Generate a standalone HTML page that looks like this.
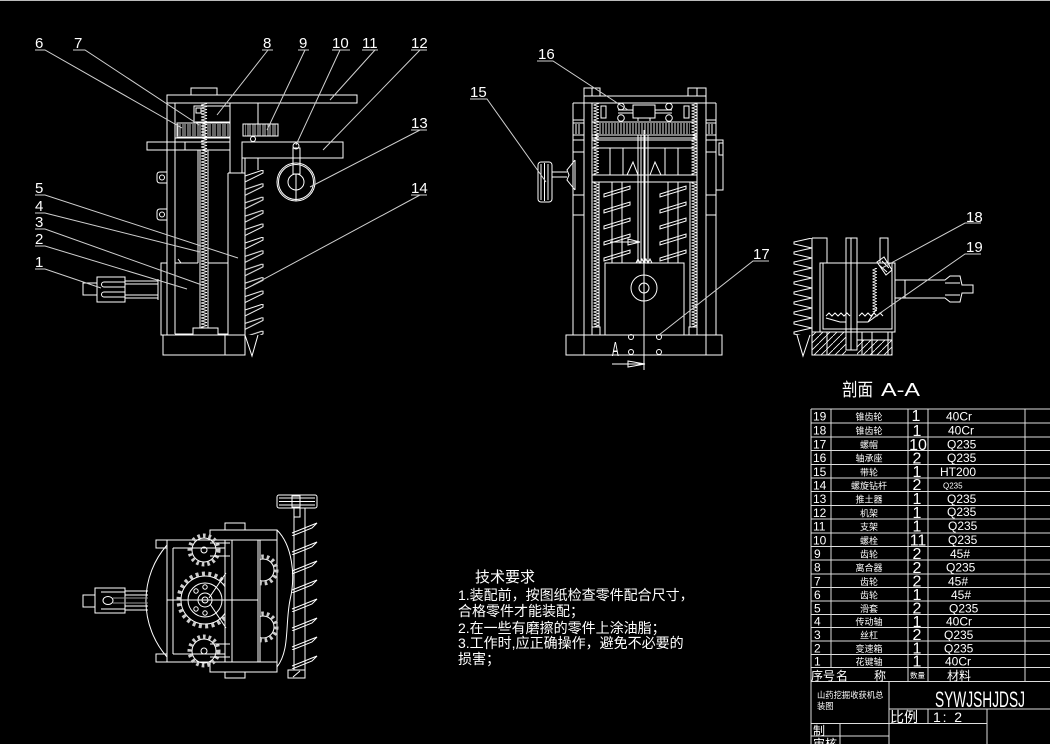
<!DOCTYPE html>
<html><head><meta charset="utf-8">
<style>
html,body{margin:0;padding:0;background:#000;}
body{width:1050px;height:744px;overflow:hidden;}
svg{display:block;}
text{font-family:"Liberation Sans","Noto Sans CJK SC",sans-serif;fill:#fff;}
.cj{font-family:"Liberation Sans","Noto Sans CJK SC",sans-serif;}
</style></head><body>
<svg width="1050" height="744" viewBox="0 0 1050 744" xmlns="http://www.w3.org/2000/svg">
<defs>
<pattern id="zz1" x="200" y="0" width="8" height="3" patternUnits="userSpaceOnUse"><path d="M1,0 L7,1.5 L1,3" fill="none" stroke="#fff" stroke-width="0.8"/></pattern>
<pattern id="zz2" x="593" y="0" width="6" height="3" patternUnits="userSpaceOnUse"><path d="M0.5,0 L5.5,1.5 L0.5,3" fill="none" stroke="#fff" stroke-width="0.8"/></pattern>
<pattern id="zz3" x="691" y="0" width="6" height="3" patternUnits="userSpaceOnUse"><path d="M0.5,0 L5.5,1.5 L0.5,3" fill="none" stroke="#fff" stroke-width="0.8"/></pattern>
<pattern id="zz4" x="872" y="0" width="5" height="3" patternUnits="userSpaceOnUse"><path d="M0.5,0 L4.5,1.5 L0.5,3" fill="none" stroke="#fff" stroke-width="0.8"/></pattern>
<pattern id="gr" x="177" y="124" width="5" height="12" patternUnits="userSpaceOnUse"><path d="M1,0V12M3,0V12" stroke="#fff" stroke-width="0.8"/></pattern>
<pattern id="gm" x="599" y="123" width="3" height="11" patternUnits="userSpaceOnUse"><path d="M1,0V11" stroke="#fff" stroke-width="0.9"/></pattern>
<pattern id="h14" x="245" y="170" width="20" height="13.4" patternUnits="userSpaceOnUse"><path d="M0,6 L18,0 L18,3 L0,12" fill="none" stroke="#fff" stroke-width="1"/></pattern>
<pattern id="hr" x="793" y="238" width="19" height="10" patternUnits="userSpaceOnUse"><path d="M19,0 L1,4 L1,6 L19,10" fill="none" stroke="#fff" stroke-width="1"/></pattern>
<pattern id="hs" x="603" y="183" width="28" height="16" patternUnits="userSpaceOnUse"><path d="M1,11 L27,3 L27,6 L1,14 Z" fill="none" stroke="#fff" stroke-width="1"/></pattern>
<pattern id="hs2" x="659" y="183" width="28" height="16" patternUnits="userSpaceOnUse"><path d="M1,11 L27,3 L27,6 L1,14 Z" fill="none" stroke="#fff" stroke-width="1"/></pattern>
<pattern id="hb" x="290" y="517" width="28" height="19" patternUnits="userSpaceOnUse"><path d="M2,16 L27,6 L22,11 L2,19" fill="none" stroke="#fff" stroke-width="1"/></pattern>
<pattern id="hatch" x="0" y="0" width="7" height="7" patternUnits="userSpaceOnUse"><path d="M0,7 L7,0" stroke="#fff" stroke-width="0.8"/></pattern>
<clipPath id="cpL"><rect x="140" y="560" width="85" height="80"/></clipPath>
<clipPath id="cpR"><rect x="260" y="540" width="25" height="122"/></clipPath>
</defs>
<rect width="1050" height="744" fill="#000"/>
<line x1="0" y1="0.5" x2="1050" y2="0.5" stroke="#bbb"/>

<!-- ============ LEFT VIEW ============ -->
<g fill="none" stroke="#fff" stroke-width="1">
<rect x="191" y="88" width="26" height="7"/>
<rect x="167" y="95" width="190" height="8"/>
<line x1="167" y1="103" x2="167" y2="263"/>
<line x1="175" y1="103" x2="175" y2="334"/>
<rect x="161" y="263" width="6" height="72"/>
<path d="M167,172 H160 Q157,172 157,175 V180 Q157,183 160,183 H167"/>
<circle cx="162" cy="177.5" r="2.5"/>
<path d="M167,209 H160 Q157,209 157,212 V217 Q157,220 160,220 H167"/>
<circle cx="162" cy="214.5" r="2.5"/>
<rect x="194" y="106" width="36" height="16"/>
<rect x="196" y="108" width="5" height="5"/>
<line x1="230" y1="103" x2="230" y2="142"/>
<line x1="258" y1="103" x2="258" y2="124"/>
<rect x="177" y="123" width="53" height="14"/>
<rect x="177" y="124" width="53" height="12" fill="url(#gr)" stroke="none"/>
<rect x="243" y="124" width="35" height="12"/>
<rect x="245" y="124" width="33" height="12" fill="url(#gr)" stroke="none"/>
<circle cx="253" cy="139" r="2.5"/>
<line x1="175" y1="138" x2="230" y2="138"/>
<rect x="147" y="142" width="83" height="8"/>
<line x1="185" y1="142" x2="185" y2="150"/>
<rect x="242" y="142" width="101" height="16"/>
<line x1="242" y1="158" x2="242" y2="173"/>
<line x1="258" y1="158" x2="258" y2="170"/>
<line x1="175" y1="263" x2="198" y2="263"/>
<line x1="178" y1="259" x2="181" y2="263"/>
<line x1="198" y1="150" x2="198" y2="263"/>
<rect x="200" y="103" width="8" height="225" fill="url(#zz1)" stroke="none"/>
<line x1="200" y1="150" x2="200" y2="328"/>
<line x1="208" y1="150" x2="208" y2="328"/>
<line x1="230" y1="150" x2="230" y2="173"/>
<line x1="228" y1="173" x2="245" y2="173"/>
<line x1="228" y1="173" x2="228" y2="335"/>
<line x1="208" y1="263" x2="228" y2="263"/>
<path d="M175,334 H193 V328 H218 V334 H228"/>
<rect x="163" y="335" width="82" height="20"/>
<line x1="225" y1="335" x2="225" y2="355"/>
<line x1="245" y1="158" x2="245" y2="335"/>
<rect x="245" y="170" width="20" height="165" fill="url(#h14)" stroke="none"/>
<path d="M245,335 L252,356 L258,335"/>
<!-- pulley 13 -->
<circle cx="296" cy="182" r="19"/>
<circle cx="296" cy="182" r="17.5"/>
<circle cx="296" cy="182" r="8"/>
<line x1="296" y1="174" x2="296" y2="201"/>
<rect x="293" y="148" width="7" height="26"/>
<circle cx="296" cy="146" r="3"/>
<!-- motor 1 -->
<rect x="83" y="283" width="14" height="12"/>
<rect x="97" y="277" width="28" height="25"/>
<path d="M125,281 H158 M125,284 H158 M125,295 H158 M125,298 H158"/>
<path d="M104,282 H125 M104,287 H125 M104,292 H125 M104,297 H125"/>
<path d="M104,282 A2.5,2.5 0 0 0 104,287 M104,292 A2.5,2.5 0 0 0 104,297"/>
<line x1="158" y1="279" x2="158" y2="300"/>
</g>
<!-- left view leaders -->
<g stroke="#d0d0d0" stroke-width="1" fill="none">
<path d="M35,50 H45 L182,128"/>
<path d="M73,50 H85 L199,125"/>
<path d="M273,50 H262 M268,50 L217,115"/>
<path d="M309,50 H298 M305,50 L267,130"/>
<path d="M350,50 H332 M340,50 L296,145"/>
<path d="M378,50 H362 M375,50 L330,100"/>
<path d="M427,50 H411 M420,50 L323,150"/>
<path d="M427,130 H411 M420,130 L310,187"/>
<path d="M427,195 H411 M420,195 L253,285"/>
<path d="M35,195 H45 L238,258"/>
<path d="M35,213 H45 L200,252"/>
<path d="M35,229 H45 L202,285"/>
<path d="M35,246 H45 L187,289"/>
<path d="M35,269 H45 L101,288"/>
</g>
<g font-size="15">
<text x="35" y="48">6</text>
<text x="74" y="48">7</text>
<text x="263" y="48">8</text>
<text x="299" y="48">9</text>
<text x="332" y="48">10</text>
<text x="362" y="48">11</text>
<text x="411" y="48">12</text>
<text x="411" y="128">13</text>
<text x="411" y="193">14</text>
<text x="35" y="193">5</text>
<text x="35" y="211">4</text>
<text x="35" y="227">3</text>
<text x="35" y="244">2</text>
<text x="35" y="267">1</text>
</g>

<!-- ============ MIDDLE VIEW ============ -->
<g fill="none" stroke="#fff" stroke-width="1">
<rect x="584" y="88" width="16" height="8"/>
<line x1="592" y1="88" x2="592" y2="96"/>
<rect x="688" y="88" width="18" height="8"/>
<line x1="697" y1="88" x2="697" y2="96"/>
<rect x="584" y="96" width="122" height="7"/>
<line x1="573" y1="103" x2="716" y2="103"/>
<line x1="573" y1="103" x2="573" y2="335"/>
<line x1="716" y1="103" x2="716" y2="335"/>
<line x1="584" y1="103" x2="584" y2="335"/>
<line x1="592" y1="103" x2="592" y2="335"/>
<line x1="697" y1="103" x2="697" y2="335"/>
<line x1="706" y1="103" x2="706" y2="335"/>
<path d="M573,120 H584 M573,123 H584 M573,135 H584 M573,140 H584 M573,152 H584 M573,195 H584 M573,215 H584"/>
<path d="M706,120 H716 M706,123 H716 M706,135 H716 M706,140 H716 M706,152 H716 M706,195 H716 M706,215 H716"/>
<path d="M576,124 V134 M579,124 V134 M709,124 V134 M712,124 V134"/>
<rect x="633" y="105" width="22" height="13"/>
<path d="M618,110 H633 M655,110 H672 M618,113 H633 M655,113 H672 M638,118 V121 M650,118 V121"/>
<circle cx="621" cy="106.5" r="3.3"/><circle cx="621" cy="118" r="3.3"/>
<circle cx="669" cy="106.5" r="3.3"/><circle cx="669" cy="118" r="3.3"/>
<rect x="601" y="106" width="5" height="12"/><rect x="684" y="106" width="5" height="12"/>
<rect x="592" y="122" width="105" height="13"/>
<rect x="599" y="123" width="91" height="11" fill="url(#gm)" stroke="none"/>
<line x1="592" y1="138" x2="697" y2="138"/>
<rect x="592" y="140" width="105" height="8"/>
<line x1="592" y1="175" x2="697" y2="175"/>
<line x1="592" y1="182" x2="697" y2="182"/>
<path d="M610,148 V175 M623,148 V175 M665,148 V175 M678,148 V175"/>
<path d="M627,175 L633,162 L638,175 M650,175 L655,162 L661,175"/>
<rect x="593" y="103" width="6" height="72" fill="url(#zz2)" stroke="none"/>
<rect x="593" y="182" width="6" height="145" fill="url(#zz2)" stroke="none"/>
<rect x="691" y="103" width="6" height="72" fill="url(#zz3)" stroke="none"/>
<rect x="691" y="182" width="6" height="145" fill="url(#zz3)" stroke="none"/>
<line x1="599" y1="182" x2="599" y2="327"/>
<line x1="690" y1="182" x2="690" y2="327"/>
<path d="M612,182 V263 M622,182 V263 M668,182 V263 M678,182 V263"/>
<rect x="603" y="183" width="28" height="80" fill="url(#hs)" stroke="none"/>
<rect x="659" y="183" width="28" height="80" fill="url(#hs2)" stroke="none"/>
<path d="M638,135 V263 M641,135 V263 M645,135 V263 M648,135 V263"/>
<path d="M636,263 L638,259 L640,263 L642,259 L644,263 L646,259 L648,263 L650,259 L652,263"/>
<rect x="605" y="263" width="79" height="72"/>
<circle cx="644" cy="288" r="13"/>
<circle cx="644" cy="288" r="5"/>
<rect x="592" y="327" width="8" height="8"/><rect x="689" y="327" width="8" height="8"/>
<rect x="566" y="335" width="156" height="20"/>
<line x1="584" y1="335" x2="584" y2="355"/>
<line x1="706" y1="335" x2="706" y2="355"/>
<line x1="644" y1="130" x2="644" y2="370"/>
<circle cx="631" cy="337" r="2.5"/><circle cx="659" cy="337" r="2.5"/>
<circle cx="631" cy="352" r="2.5"/><circle cx="659" cy="352" r="2.5"/>
<path d="M612,364 H645 M628,361 L645,364 L628,367 Z"/>
<path d="M610,242 H640 M628,239 L640,242 L628,245 Z"/>
<!-- pulley 15 -->
<rect x="538" y="162" width="14" height="40" rx="3"/>
<path d="M541,164 V200 M544.5,163 V201 M548,164 V200"/>
<path d="M552,172 H567 M552,177 H567"/>
<path d="M575,160 L567,170 L569,175 L567,180 L575,190"/>
<line x1="575" y1="160" x2="575" y2="190"/>
<rect x="716" y="140" width="7" height="50"/>
<rect x="719" y="143" width="4" height="12"/>
</g>
<g stroke="#d0d0d0" stroke-width="1" fill="none">
<path d="M537,61 H553 L628,110"/>
<path d="M470,99 H487 L546,182"/>
<path d="M769,261 H753 L659,335"/>
</g>
<g font-size="15">
<text x="538" y="59">16</text>
<text x="470" y="97">15</text>
<text x="753" y="259">17</text>
</g>
<text x="0" y="0" font-size="20" transform="translate(612,356) scale(0.5,1)">A</text>

<!-- ============ SECTION A-A ============ -->
<g fill="none" stroke="#fff" stroke-width="1">
<line x1="812" y1="238" x2="812" y2="355"/>
<rect x="793" y="238" width="19" height="97" fill="url(#hr)" stroke="none"/>
<path d="M797,335 L803,356 L810,335"/>
<path d="M812,238 H827 V263"/>
<rect x="820" y="263" width="75" height="69"/>
<path d="M823,263 V329 H892 V263"/>
<rect x="846" y="238" width="11" height="112"/>
<line x1="851" y1="238" x2="851" y2="350"/>
<rect x="880" y="238" width="8" height="25"/>
<rect x="872" y="268" width="5" height="44" fill="url(#zz4)" stroke="none"/>
<path d="M877,262 L884,257 L892,270 L886,275 Z M879,265 L887,272 M882,261 L889,268"/>
<path d="M826,316 l3,-3 l3,3 l3,-3 l3,3 l3,-3 l3,3 l3,-3 l3,3 M859,316 l3,-3 l3,3 l3,-3 l3,3 l3,-3 l3,3 l3,-3 l3,3"/>
<path d="M826,318 L840,322 H846 M857,322 H868 L882,312 M868,322 L877,308"/>
<path d="M895,280 H945 L950,276 H960 L962,285 H973 V293 H962 L960,302 H950 L945,298 H895"/>
<path d="M905,280 V298 M945,283 H960 M945,295 H960"/>
<rect x="812" y="332" width="80" height="23"/>
<rect x="812" y="332" width="34" height="23" fill="url(#hatch)" stroke="none"/>
<rect x="857" y="340" width="35" height="15" fill="url(#hatch)" stroke="none"/>
<path d="M827,332 V355 M862,332 V355 M872,332 V355 M888,332 V355 M857,340 H892"/>
</g>
<g stroke="#d0d0d0" stroke-width="1" fill="none">
<path d="M981,223 H965 L882,268"/>
<path d="M981,254 H965 L873,318"/>
</g>
<g font-size="15">
<text x="966" y="222">18</text>
<text x="966" y="252">19</text>
</g>
<text x="842" y="396" font-size="18" class="cj" textLength="31" lengthAdjust="spacingAndGlyphs">剖面</text>
<text x="881" y="396" font-size="18" textLength="39" lengthAdjust="spacingAndGlyphs">A-A</text>

<!-- ============ BOTTOM-LEFT VIEW ============ -->
<g fill="none" stroke="#fff" stroke-width="1">
<path d="M167,545 A85,85 0 0 0 167,657"/>
<rect x="167" y="540" width="110" height="122"/>
<rect x="156" y="540" width="11" height="8"/>
<rect x="156" y="654" width="11" height="8"/>
<line x1="173" y1="548" x2="173" y2="654"/>
<line x1="173" y1="548" x2="225" y2="548"/>
<line x1="173" y1="654" x2="225" y2="654"/>
<line x1="225" y1="540" x2="225" y2="662"/>
<line x1="232" y1="540" x2="232" y2="662"/>
<line x1="258" y1="540" x2="258" y2="662"/>
<line x1="260" y1="540" x2="260" y2="662"/>
<line x1="167" y1="600" x2="258" y2="600"/>
<rect x="210" y="530" width="67" height="10"/>
<rect x="225" y="523" width="20" height="7"/>
<rect x="210" y="662" width="67" height="10"/>
<rect x="225" y="672" width="20" height="6"/>
<!-- gears -->
<circle cx="204" cy="550" r="12"/>
<circle cx="204" cy="550" r="14.5" stroke="#ccc" stroke-width="4" stroke-dasharray="2.6 3"/>
<circle cx="204" cy="550" r="3"/>
<path d="M210,543 H230 M210,556 H230"/>
<circle cx="204" cy="651" r="12"/>
<circle cx="204" cy="651" r="14.5" stroke="#ccc" stroke-width="4" stroke-dasharray="2.6 3"/>
<circle cx="204" cy="651" r="3"/>
<path d="M210,644 H230 M210,657 H230"/>
<g clip-path="url(#cpL)">
<circle cx="205" cy="600" r="24"/>
<circle cx="205" cy="600" r="26.5" stroke="#ccc" stroke-width="4" stroke-dasharray="3 3.4"/>
</g>
<circle cx="205" cy="600" r="17"/>
<circle cx="205" cy="600" r="7"/>
<circle cx="205" cy="600" r="3"/>
<circle cx="196" cy="591" r="2.2"/><circle cx="196" cy="609" r="2.2"/><circle cx="205" cy="587" r="2.2"/><circle cx="205" cy="613" r="2.2"/>
<path d="M226,573 L209,598 M226,628 L210,604"/>
<g clip-path="url(#cpR)">
<circle cx="263" cy="570" r="11"/>
<circle cx="263" cy="570" r="13.5" stroke="#ccc" stroke-width="4" stroke-dasharray="2.6 3"/>
<circle cx="263" cy="627" r="11"/>
<circle cx="263" cy="627" r="13.5" stroke="#ccc" stroke-width="4" stroke-dasharray="2.6 3"/>
</g>
<!-- screw -->
<path d="M277,530 C292,545 296,575 290,600 C285,625 290,650 277,667"/>
<line x1="305" y1="508" x2="305" y2="670"/>
<line x1="294" y1="517" x2="294" y2="670"/>
<rect x="290" y="517" width="28" height="152" fill="url(#hb)" stroke="none"/>
<rect x="277" y="495" width="40" height="13" rx="2"/>
<path d="M279,498 H315 M279,501.5 H315 M279,505 H315"/>
<rect x="292" y="496" width="8" height="11"/>
<rect x="294" y="508" width="6" height="9"/>
<rect x="288" y="670" width="17" height="8"/>
<path d="M293,677 L300,671"/>
<!-- motor -->
<rect x="83" y="595" width="12" height="12"/>
<rect x="95" y="588" width="30" height="25"/>
<path d="M101,592 H125 M101,609 H125"/>
<path d="M125,591 H148 M125,595 H148 M125,606 H148 M125,610 H148"/>
<ellipse cx="108" cy="600.5" rx="5" ry="4"/>
<path d="M113,598 H148 M113,603 H148" stroke="#999"/>
</g>

<!-- ============ TECH TEXT ============ -->
<g font-size="14" class="cj">
<text x="475" y="582" font-size="15">技术要求</text>
<text x="458" y="600">1.装配前，按图纸检查零件配合尺寸，</text>
<text x="458" y="616">合格零件才能装配；</text>
<text x="458" y="633">2.在一些有磨擦的零件上涂油脂；</text>
<text x="458" y="648">3.工作时,应正确操作，避免不必要的</text>
<text x="458" y="664">损害；</text>
</g>

<!-- ============ TABLE ============ -->
<g stroke="#ddd" stroke-width="1" fill="none">
<line x1="811" y1="409" x2="1050" y2="409"/>
<line x1="811" y1="423" x2="1050" y2="423"/>
<line x1="811" y1="437" x2="1050" y2="437"/>
<line x1="811" y1="450.5" x2="1050" y2="450.5"/>
<line x1="811" y1="464.5" x2="1050" y2="464.5"/>
<line x1="811" y1="478" x2="1050" y2="478"/>
<line x1="811" y1="491.5" x2="1050" y2="491.5"/>
<line x1="811" y1="505.5" x2="1050" y2="505.5"/>
<line x1="811" y1="519" x2="1050" y2="519"/>
<line x1="811" y1="533" x2="1050" y2="533"/>
<line x1="811" y1="546.5" x2="1050" y2="546.5"/>
<line x1="811" y1="560" x2="1050" y2="560"/>
<line x1="811" y1="574" x2="1050" y2="574"/>
<line x1="811" y1="587.5" x2="1050" y2="587.5"/>
<line x1="811" y1="601" x2="1050" y2="601"/>
<line x1="811" y1="614.5" x2="1050" y2="614.5"/>
<line x1="811" y1="627.5" x2="1050" y2="627.5"/>
<line x1="811" y1="641" x2="1050" y2="641"/>
<line x1="811" y1="654.5" x2="1050" y2="654.5"/>
<line x1="811" y1="667.5" x2="1050" y2="667.5"/>
<line x1="811" y1="681.5" x2="1050" y2="681.5"/>
<line x1="811" y1="409" x2="811" y2="744"/>
<line x1="831" y1="409" x2="831" y2="667.5"/>
<line x1="908" y1="409" x2="908" y2="681.5"/>
<line x1="928" y1="409" x2="928" y2="681.5"/>
<line x1="1025" y1="409" x2="1025" y2="681.5"/>
<line x1="889" y1="681.5" x2="889" y2="744"/>
<line x1="889" y1="709" x2="1050" y2="709"/>
<line x1="811" y1="723.5" x2="987" y2="723.5"/>
<line x1="811" y1="736" x2="889" y2="736"/>
<line x1="840" y1="723.5" x2="840" y2="744"/>
<line x1="928" y1="709" x2="928" y2="723.5"/>
<line x1="987" y1="709" x2="987" y2="744"/>
</g>
<g font-size="12">
<text x="813" y="420.5">19</text>
<text x="813" y="434.5">18</text>
<text x="813" y="448.3">17</text>
<text x="813" y="462">16</text>
<text x="813" y="475.8">15</text>
<text x="813" y="489.3">14</text>
<text x="813" y="503">13</text>
<text x="813" y="516.8">12</text>
<text x="813" y="530.5">11</text>
<text x="813" y="544.3">10</text>
<text x="814" y="557.8">9</text>
<text x="814" y="571.5">8</text>
<text x="814" y="585.3">7</text>
<text x="814" y="598.8">6</text>
<text x="814" y="612.3">5</text>
<text x="814" y="625.5">4</text>
<text x="814" y="638.8">3</text>
<text x="814" y="652.3">2</text>
<text x="814" y="665.5">1</text>
</g>
<g font-size="9" text-anchor="middle" class="cj">
<text x="869" y="420">锥齿轮</text>
<text x="869" y="434">锥齿轮</text>
<text x="869" y="448">螺帽</text>
<text x="869" y="461.5">轴承座</text>
<text x="869" y="475.5">带轮</text>
<text x="869" y="489">螺旋钻杆</text>
<text x="869" y="502.5">推土器</text>
<text x="869" y="516.5">机架</text>
<text x="869" y="530">支架</text>
<text x="869" y="544">螺栓</text>
<text x="869" y="557.5">齿轮</text>
<text x="869" y="571">离合器</text>
<text x="869" y="585">齿轮</text>
<text x="869" y="598.5">齿轮</text>
<text x="869" y="612">滑套</text>
<text x="869" y="625">传动轴</text>
<text x="869" y="638.5">丝杠</text>
<text x="869" y="652">变速箱</text>
<text x="869" y="665">花键轴</text>
</g>
<g font-size="16" text-anchor="middle">
<text x="916" y="421">1</text>
<text x="917" y="436">1</text>
<text x="918" y="450">10</text>
<text x="917" y="463.5">2</text>
<text x="917" y="477">1</text>
<text x="917" y="490">2</text>
<text x="917" y="504">1</text>
<text x="917" y="518">1</text>
<text x="917" y="531.5">1</text>
<text x="918" y="545.5">11</text>
<text x="917" y="559">2</text>
<text x="917" y="573">2</text>
<text x="917" y="586.5">2</text>
<text x="917" y="600">1</text>
<text x="917" y="613.5">2</text>
<text x="917" y="627">1</text>
<text x="917" y="640">2</text>
<text x="917" y="653.5">1</text>
<text x="917" y="666.5">1</text>
</g>
<g font-size="12">
<text x="946" y="420.5">40Cr</text>
<text x="948" y="434.5">40Cr</text>
<text x="947" y="448.3">Q235</text>
<text x="947" y="462">Q235</text>
<text x="940" y="475.8">HT200</text>
<text x="943" y="488.5" font-size="8">Q235</text>
<text x="947" y="503">Q235</text>
<text x="947" y="516">Q235</text>
<text x="948" y="530">Q235</text>
<text x="948" y="544">Q235</text>
<text x="950" y="557.8">45#</text>
<text x="946" y="571.5">Q235</text>
<text x="948" y="585.3">45#</text>
<text x="951" y="598.8">45#</text>
<text x="949" y="612.3">Q235</text>
<text x="946" y="625.5">40Cr</text>
<text x="944" y="638.8">Q235</text>
<text x="944" y="652.3">Q235</text>
<text x="945" y="665.5">40Cr</text>
</g>
<g class="cj">
<text x="811" y="680" font-size="12">序号</text>
<text x="836" y="680" font-size="12">名</text>
<text x="874" y="680" font-size="12">称</text>
<text x="910" y="678" font-size="7.5">数量</text>
<text x="947" y="680" font-size="12">材料</text>
<text x="817" y="698" font-size="8.3">山药挖掘收获机总</text>
<text x="817" y="709" font-size="8.3">装图</text>
<text x="890" y="722" font-size="14">比例</text>
<text x="813" y="735" font-size="12">制</text>
<text x="813" y="748" font-size="12">审核</text>
</g>
<text x="935" y="707" font-size="22" textLength="90" lengthAdjust="spacingAndGlyphs">SYWJSHJDSJ</text>
<text x="933" y="722" font-size="14" textLength="29" lengthAdjust="spacing">1: 2</text>
</svg>
</body></html>
